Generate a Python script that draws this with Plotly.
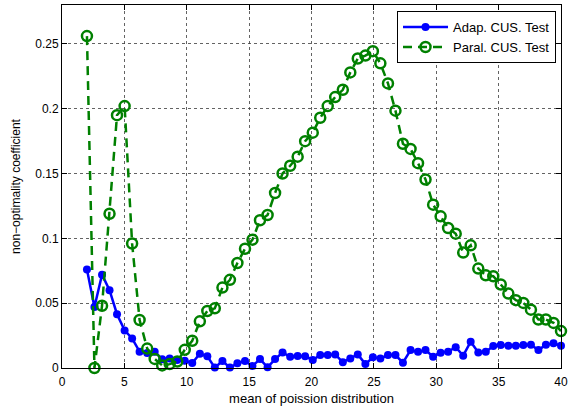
import plotly.graph_objects as go

x_means = [2.00, 2.60, 3.21, 3.81, 4.41, 5.02, 5.62, 6.22, 6.83, 7.43,
           8.03, 8.63, 9.24, 9.84, 10.44, 11.05, 11.65, 12.25, 12.86, 13.46,
           14.06, 14.67, 15.27, 15.87, 16.48, 17.08, 17.68, 18.29, 18.89, 19.49,
           20.10, 20.70, 21.30, 21.90, 22.51, 23.11, 23.71, 24.32, 24.92, 25.52,
           26.13, 26.73, 27.33, 27.94, 28.54, 29.14, 29.75, 30.35, 30.95, 31.56,
           32.16, 32.76, 33.37, 33.97, 34.57, 35.17, 35.78, 36.38, 36.98, 37.59,
           38.19, 38.79, 39.40, 40.00]

adap_cus = [0.076, 0.047, 0.072, 0.060, 0.0415, 0.029, 0.0228, 0.0126, 0.0115, 0.0126,
            0.0067, 0.0074, 0.0062, 0.0056, 0.0038, 0.011, 0.009, 0.0003, 0.0054, 0.0003,
            0.0036, 0.0054, 0.0015, 0.0069, 0.0005, 0.0069, 0.012, 0.0087, 0.0092, 0.009,
            0.0062, 0.010, 0.010, 0.0105, 0.0044, 0.0074, 0.0105, 0.003, 0.0082, 0.0074,
            0.010, 0.010, 0.0041, 0.0138, 0.0126, 0.0138, 0.0087, 0.0118, 0.0126, 0.016,
            0.0095, 0.0203, 0.012, 0.0126, 0.0169, 0.0177, 0.0172, 0.0172, 0.0177, 0.018,
            0.0138, 0.018, 0.019, 0.0172]

paral_cus = [0.256, 0.0, 0.048, 0.119, 0.195, 0.202, 0.096, 0.037, 0.015, 0.007,
             0.002, 0.003, 0.005, 0.014, 0.021, 0.036, 0.044, 0.046, 0.062, 0.068,
             0.081, 0.092, 0.099, 0.114, 0.118, 0.135, 0.150, 0.156, 0.163, 0.175,
             0.1815, 0.193, 0.202, 0.209, 0.2146, 0.228, 0.2387, 0.241, 0.2444, 0.235,
             0.2195, 0.1985, 0.173, 0.169, 0.158, 0.1454, 0.126, 0.117, 0.108, 0.1036,
             0.089, 0.0946, 0.0767, 0.0715, 0.0708, 0.0644, 0.0574, 0.0523, 0.0502, 0.045,
             0.0374, 0.0374, 0.0348, 0.0285]

x_ticks = [0, 5, 10, 15, 20, 25, 30, 35, 40]
y_ticks = [0, 0.05, 0.1, 0.15, 0.2, 0.25]
y_tick_labels = ["0", "0.05", "0.1", "0.15", "0.2", "0.25"]

FONT = "Liberation Sans, Arial, sans-serif"

fig = go.Figure()
fig.add_trace(go.Scatter(
    x=x_means, y=adap_cus, name="Adap. CUS. Test", mode="lines+markers",
    line=dict(color="#0000FF", width=2.5),
    marker=dict(symbol="circle", size=8, color="#0000FF"),
    cliponaxis=False,
))
fig.add_trace(go.Scatter(
    x=x_means, y=paral_cus, name="Paral. CUS. Test", mode="lines+markers",
    line=dict(color="#008000", width=2.5, dash="9px,6px"),
    marker=dict(symbol="circle-open", size=10, color="#008000", line=dict(width=2.5, color="#008000")),
    cliponaxis=False,
))

axis_common = dict(
    showline=True, linecolor="black", linewidth=1, mirror="ticks",
    ticks="inside", ticklen=5, tickcolor="black",
    showgrid=True, gridcolor="rgba(60,60,60,0.8)", griddash="dot", gridwidth=1,
    zeroline=False, automargin=False, ticklabeloverflow="allow",
    tickfont=dict(family=FONT, size=12, color="black"),
)

fig.update_xaxes(range=[0, 40], tickvals=x_ticks, ticklabelstandoff=3,
                 title=dict(text="mean of poission distribution", standoff=5,
                            font=dict(family=FONT, size=13, color="black")),
                 **axis_common)
fig.update_yaxes(range=[0, 0.28], tickvals=y_ticks, ticktext=y_tick_labels,
                 title=dict(text="non−optimality coefficient", standoff=12,
                            font=dict(family=FONT, size=12, color="black")),
                 **axis_common)

fig.update_layout(
    width=568, height=413,
    margin=dict(l=62, r=7, t=5, b=45, autoexpand=False),
    plot_bgcolor="white", paper_bgcolor="white",
    legend=dict(x=0.99, y=0.983, xanchor="right", yanchor="top",
                bgcolor="white", bordercolor="black", borderwidth=1,
                font=dict(family=FONT, size=13, color="black"),
                tracegroupgap=0, itemwidth=45),
    font=dict(family=FONT),
)

fig.write_html("out.html", config={"displayModeBar": False},
               post_script="document.body.style.margin='0';document.body.style.padding='0';")
